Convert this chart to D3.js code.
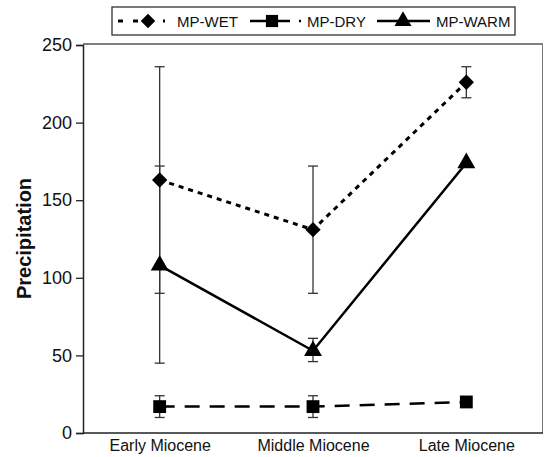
<!DOCTYPE html>
<html lang="en">
<head>
<meta charset="utf-8">
<title>Miocene precipitation</title>
<script src="https://d3js.org/d3.v7.min.js"></script>
<style>
  body { margin: 0; background: #fff; }
  svg { display: block; }
  text { font-family: "Liberation Sans", Arial, Helvetica, sans-serif; fill: #111; }
</style>
</head>
<body>
<svg width="544" height="457"></svg>
<script>
// periods on the x axis
const periods = ["Early Miocene", "Middle Miocene", "Late Miocene"];
// mean precipitation per experiment
const wet  = [163, 131, 226];
const dry  = [17, 17, 20];
const warm = [108, 53, 174];
// error bar ends [low, high], null when none is drawn
const wetErr  = [[90, 236], [90, 172], [216, 236]];
const dryErr  = [[10, 24], [10, 24], null];
const warmErr = [[45, 172], [46, 61], null];
const yTicks = [0, 50, 100, 150, 200, 250];

const svg = d3.select("svg");
const plotL = 83, plotR = 543, plotT = 44, plotB = 433;

const x = d3.scalePoint().domain(periods).range([plotL, plotR]).padding(0.5);
const y = d3.scaleLinear().domain([0, 250]).range([plotB, plotT + 1]);

// frame
svg.append("line").attr("x1", plotL).attr("x2", plotR).attr("y1", plotT).attr("y2", plotT)
   .attr("stroke", "#555").attr("stroke-width", 1.5);
svg.append("line").attr("x1", plotR - 0.5).attr("x2", plotR - 0.5).attr("y1", plotT).attr("y2", plotB)
   .attr("stroke", "#777").attr("stroke-width", 1);

// y axis
const yAxis = svg.append("g").attr("transform", `translate(${plotL},0)`)
   .call(d3.axisLeft(y).tickValues(yTicks).tickSize(7).tickPadding(4));
yAxis.select(".domain").attr("stroke", "#222").attr("stroke-width", 1.5);
yAxis.selectAll(".tick line").attr("stroke", "#222").attr("stroke-width", 1.3);
yAxis.selectAll(".tick text").style("font-size", "18px").attr("fill", "#111")
   .style("font-family", "'Liberation Sans', Arial, sans-serif");

// x axis
const xAxis = svg.append("g").attr("transform", `translate(0,${plotB})`)
   .call(d3.axisBottom(x).tickSize(0).tickPadding(7));
xAxis.select(".domain").attr("stroke", "#222").attr("stroke-width", 1.5)
   .attr("d", `M${plotL},0H${plotR}`);
xAxis.selectAll(".tick text").style("font-size", "16px").attr("fill", "#111")
   .style("font-family", "'Liberation Sans', Arial, sans-serif");

// y title
svg.append("text")
   .attr("transform", `translate(31,${(plotT + plotB) / 2}) rotate(-90)`)
   .attr("text-anchor", "middle")
   .style("font-size", "20px").style("font-weight", "bold")
   .text("Precipitation");

const series = [
  { name: "MP-WET", vals: wet, err: wetErr, dash: "5,5", width: 3, shape: d3.symbolDiamond2, size: 150 },
  { name: "MP-DRY", vals: dry, err: dryErr, dash: "15,10", width: 2.5, shape: d3.symbolSquare2, size: 210 },
  { name: "MP-WARM", vals: warm, err: warmErr, dash: null, width: 2.5, shape: d3.symbolTriangle2, size: 230 }
];

const line = d3.line().x((d, i) => x(periods[i])).y(d => y(d));

// error bars first so markers sit on top
series.forEach(s => {
  s.err.forEach((e, i) => {
    if (!e) return;
    const cx = x(periods[i]);
    const g = svg.append("g").attr("stroke", "#333").attr("stroke-width", 1.3);
    g.append("line").attr("x1", cx).attr("x2", cx).attr("y1", y(e[0])).attr("y2", y(e[1]));
    g.append("line").attr("x1", cx - 5).attr("x2", cx + 5).attr("y1", y(e[0])).attr("y2", y(e[0]));
    g.append("line").attr("x1", cx - 5).attr("x2", cx + 5).attr("y1", y(e[1])).attr("y2", y(e[1]));
  });
});

series.forEach(s => {
  svg.append("path").datum(s.vals)
     .attr("d", line).attr("fill", "none").attr("stroke", "#000")
     .attr("stroke-width", s.width)
     .attr("stroke-dasharray", s.dash);
  svg.selectAll(null).data(s.vals).enter().append("path")
     .attr("transform", (d, i) => `translate(${x(periods[i])},${y(d)})`)
     .attr("d", d3.symbol().type(s.shape).size(s.size))
     .attr("fill", "#000");
});

// legend
svg.append("rect").attr("x", 112).attr("y", 7).attr("width", 403).attr("height", 28)
   .attr("fill", "#fff").attr("stroke", "#333").attr("stroke-width", 1.3);
const legendItems = [
  { line: [118, 165], mark: 148, text: 177, dash: "5,10" },
  { line: [250, 302], mark: 272, text: 307, dash: "40,9,2,10" },
  { line: [377, 430], mark: 403, text: 436, dash: null }
];
series.forEach((s, i) => {
  const L = legendItems[i];
  const g = svg.append("g");
  g.append("line").attr("x1", L.line[0]).attr("x2", L.line[1]).attr("y1", 21).attr("y2", 21)
   .attr("stroke", "#000").attr("stroke-width", s.width)
   .attr("stroke-dasharray", L.dash);
  g.append("path").attr("transform", `translate(${L.mark},21)`)
   .attr("d", d3.symbol().type(s.shape).size(s.size * 0.9)).attr("fill", "#000");
  g.append("text").attr("x", L.text).attr("y", 26.5).style("font-size", "15px").text(s.name);
});
</script>
</body>
</html>
